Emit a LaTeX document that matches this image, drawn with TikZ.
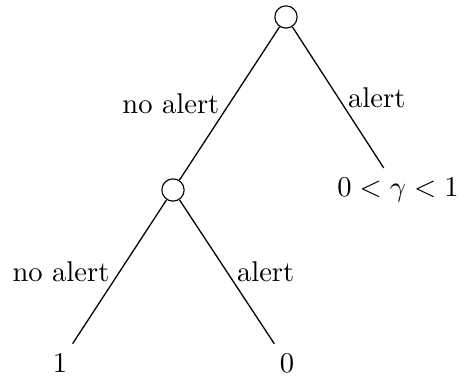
\documentclass[tikz,border=0pt]{standalone}
\begin{document}
\begin{tikzpicture}[x=0.35pt,y=-0.35pt,
  chance/.style={circle,draw,minimum size=7.8pt,inner sep=0pt},
  leaf/.style={inner sep=3.33pt},
  branch/.style={draw,line width=0.45pt},
  lbl/.style={midway}]
\useasboundingbox (0,0) rectangle (464,382);
\node[chance] (r) at (286,17) {};
\node[chance] (c) at (173,190) {};
\node[leaf] (g) at (398,190) {$0<\gamma<1$};
\node[leaf] (one) at (60,363) {$1$};
\node[leaf] (zero) at (287,363) {$0$};
\path[branch] (r) -- (c) node[lbl,left] (l1) {no alert};
\path[branch] (r) -- (g) node[lbl,right] (l2) {alert};
\path[branch] (c) -- (one) node[lbl,left] (l3) {no alert};
\path[branch] (c) -- (zero) node[lbl,right] (l4) {alert};
\end{tikzpicture}
\end{document}
